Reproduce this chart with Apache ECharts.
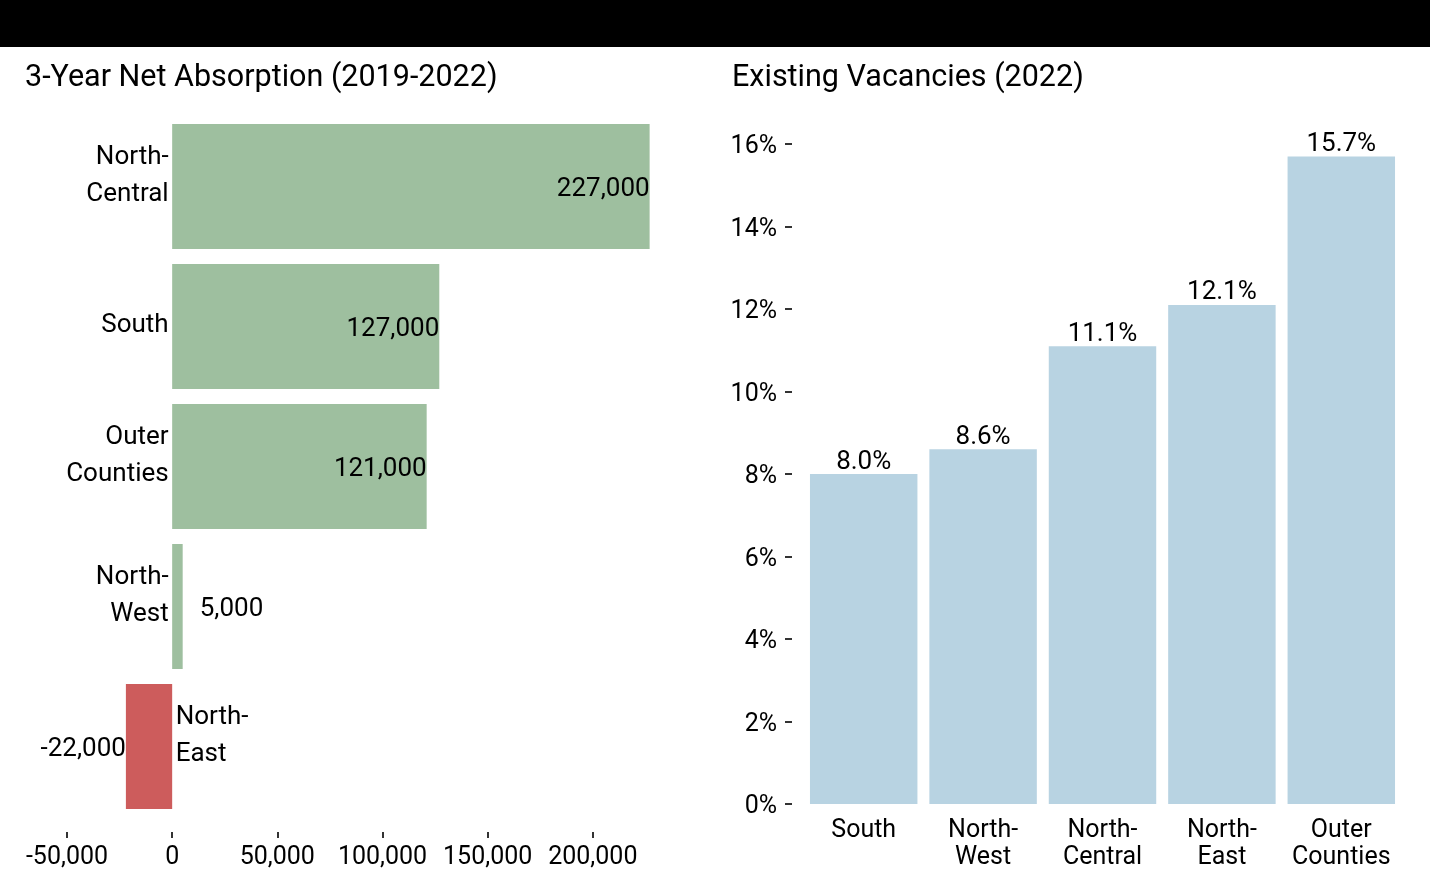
<!DOCTYPE html>
<html>
<head>
<meta charset="utf-8">
<script src="https://cdn.jsdelivr.net/npm/echarts@6/dist/echarts.min.js"></script>
<style>
html,body{margin:0;padding:0;background:#fff;}
#c{width:1430px;height:880px;}
</style>
</head>
<body>
<div id="c"></div>
<script>
// Left panel: 3-year net absorption
const absorptionCategories = ['North-\nCentral', 'South', 'Outer\nCounties', 'North-\nWest', 'North-\nEast'];
const absorptionValues = [227000, 127000, 121000, 5000, -22000];
const absorptionTicks = [-50000, 0, 50000, 100000, 150000, 200000];

// Right panel: existing vacancies
const vacancyCategories = ['South', 'North-\nWest', 'North-\nCentral', 'North-\nEast', 'Outer\nCounties'];
const vacancyValues = [8.0, 8.6, 11.1, 12.1, 15.7];

const FONT = 'Roboto';
const FS = 25;   // axis text
const LS = 26;   // data labels
const GREEN = '#9EBF9F';
const RED = '#CD5C5C';
const BLUE = '#B8D3E2';
const fmt = v => Math.round(v).toLocaleString('en-US');

const chart = echarts.init(document.getElementById('c'));

const absData = absorptionValues.map((v, i) => {
  let label;
  if (v < 0) label = { position: 'left', distance: 0 };
  else if (v < 50000) label = { position: 'right', distance: 17 };
  else label = { position: 'insideRight', distance: 0 };
  return { value: v, itemStyle: { color: v < 0 ? RED : GREEN }, label: label };
});

const catLabelData = absorptionCategories.map((c, i) => {
  const neg = absorptionValues[i] < 0;
  const twoLine = c.indexOf('\n') >= 0;
  return {
    value: [0, i],
    name: c,
    label: {
      position: neg ? 'right' : 'left',
      distance: 3,
      offset: [0, twoLine ? -11 : -1]
    }
  };
});

chart.setOption({
  animation: false,
  textStyle: { fontFamily: FONT },
  graphic: [
    { type: 'rect', shape: { x: 0, y: 0, width: 1430, height: 47 }, style: { fill: '#000' } },
    { type: 'text', left: 25, top: 63, style: { text: '3-Year Net Absorption (2019-2022)', font: '30.5px Roboto', fill: '#000' } },
    { type: 'text', left: 732, top: 63, style: { text: 'Existing Vacancies (2022)', font: '30.5px Roboto', fill: '#000' } }
  ],
  grid: [
    { left: 67, top: 116.5, width: 631, height: 700 },
    { left: 804, top: 144, width: 597, height: 660 }
  ],
  xAxis: [
    {
      gridIndex: 0, type: 'value', min: -50000, max: 250000, interval: 50000,
      offset: 15.5,
      splitLine: { show: false },
      axisLine: { show: false },
      axisTick: { show: true, length: 6, lineStyle: { color: '#333', width: 2 }, customValues: absorptionTicks },
      axisLabel: { customValues: absorptionTicks, formatter: v => fmt(v), color: '#000', fontSize: FS, margin: 13, fontFamily: FONT }
    },
    {
      gridIndex: 1, type: 'category', data: vacancyCategories,
      axisLine: { show: false }, axisTick: { show: false },
      axisLabel: { color: '#000', fontSize: FS, lineHeight: 27, margin: 13, fontFamily: FONT, interval: 0 }
    }
  ],
  yAxis: [
    {
      gridIndex: 0, type: 'category', data: absorptionCategories, inverse: true,
      axisLine: { show: false }, axisTick: { show: false }, axisLabel: { show: false }
    },
    {
      gridIndex: 1, type: 'value', min: 0, max: 16, interval: 2, offset: 12,
      splitLine: { show: false },
      axisLine: { show: false },
      axisTick: { show: true, length: 7, lineStyle: { color: '#333', width: 2 } },
      axisLabel: { formatter: '{value}%', color: '#000', fontSize: FS, margin: 15, verticalAlign: 'top', lineHeight: 6, fontFamily: FONT }
    }
  ],
  series: [
    {
      type: 'bar', xAxisIndex: 0, yAxisIndex: 0, data: absData,
      barCategoryGap: '10.7%',
      label: { show: true, offset: [0, 3], formatter: p => fmt(p.value), color: '#000', fontSize: LS, fontFamily: FONT }
    },
    {
      type: 'scatter', xAxisIndex: 0, yAxisIndex: 0, data: catLabelData,
      symbolSize: 1, itemStyle: { color: 'rgba(255,255,255,0)' }, silent: true, z: 5,
      label: { show: true, opacity: 1, formatter: p => p.name, color: '#000', fontSize: LS, lineHeight: 37, fontFamily: FONT }
    },
    {
      type: 'bar', xAxisIndex: 1, yAxisIndex: 1, data: vacancyValues,
      barCategoryGap: '10%',
      itemStyle: { color: BLUE },
      label: { show: true, position: 'top', distance: -1, formatter: p => p.value.toFixed(1) + '%', color: '#000', fontSize: LS, fontFamily: FONT }
    }
  ]
});
</script>
</body>
</html>
